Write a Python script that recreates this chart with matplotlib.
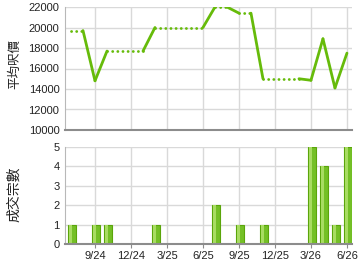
import matplotlib
matplotlib.use("Agg")
import matplotlib.pyplot as plt

# monthly data (only months with transactions)
months = ['2024-07', '2024-09', '2024-10', '2025-02', '2025-07', '2025-09',
          '2025-11', '2026-03', '2026-04', '2026-05', '2026-06']
prices = [19700, 14800, 17700, 20000, 22000, 21400, 15000, 14850, 18900, 14100, 17500]
counts = [1, 1, 1, 1, 2, 1, 1, 5, 4, 1, 5]

tick_months = ['2024-09', '2024-12', '2025-03', '2025-06', '2025-09',
               '2025-12', '2026-03', '2026-06']
tick_labels = ['9/24', '12/24', '3/25', '6/25', '9/25', '12/25', '3/26', '6/26']


def month_index(s):
    y, m = s.split('-')
    return (int(y) - 2024) * 12 + int(m) - 1


x = [month_index(m) for m in months]
xt = [month_index(m) for m in tick_months]

plt.rcParams['font.family'] = ['Liberation Sans', 'DejaVu Sans']
LINE = '#66bb0a'
GRID = '#d9d9d9'

fig = plt.figure(figsize=(3.6, 2.7), dpi=100)
ax1 = fig.add_axes([65 / 360, 1 - 130 / 270, 287 / 360, 123 / 270])
ax2 = fig.add_axes([65 / 360, 1 - 244 / 270, 287 / 360, 97 / 270])

for ax in (ax1, ax2):
    ax.set_xlim(5.5, 29.42)
    ax.set_xticks(xt)
    ax.grid(True, color=GRID, linewidth=1)
    ax.set_axisbelow(True)
    for s in ('top', 'right'):
        ax.spines[s].set_visible(False)
    ax.spines['left'].set_color('#b8b8b8')
    ax.spines['bottom'].set_color('#8c8c8c')
    ax.spines['bottom'].set_linewidth(1.5)
    ax.tick_params(axis='y', length=0, labelsize=8, colors='#222222', pad=4)

ax1.tick_params(axis='x', length=0, labelbottom=False)
ax2.tick_params(axis='x', length=3, color='#8c8c8c', labelsize=8,
                colors='#222222', pad=2)
ax2.set_xticklabels(tick_labels)

# price line: solid between consecutive months, dotted carry-over across gaps
for i in range(len(x) - 1):
    x0, x1 = x[i], x[i + 1]
    p0, p1 = prices[i], prices[i + 1]
    if x1 - x0 == 1:
        ax1.plot([x0, x1], [p0, p1], color=LINE, linewidth=2, solid_capstyle='round')
    else:
        ax1.plot([x0, x1 - 1], [p0, p0], color=LINE, linewidth=2,
                 linestyle=(0, (0.05, 1.8)), dash_capstyle='round')
        ax1.plot([x1 - 1, x1], [p0, p1], color=LINE, linewidth=2, solid_capstyle='round')

ax1.set_ylim(10000, 22000)
ax1.set_yticks(range(10000, 22001, 2000))

# bars with a simple highlight
bx = [v + 0.05 for v in x]
ax2.bar(bx, counts, width=0.66, color='#74c026', edgecolor='#5aa50a', linewidth=0.8)
ax2.bar([v - 0.08 for v in bx], counts, width=0.22, color='#a8dc62', linewidth=0)
ax2.set_ylim(0, 5)
ax2.set_yticks(range(0, 6))

fig.text(15 / 360, 1 - 64 / 270, '平均呎價', rotation=90, ha='center', va='center',
         fontsize=9, family=['Noto Sans CJK TC', 'DejaVu Sans'], color='#222222')
fig.text(14 / 360, 1 - 194 / 270, '成交宗數', rotation=90, ha='center', va='center',
         fontsize=10, family=['Noto Sans CJK TC', 'DejaVu Sans'], color='#222222')

fig.savefig('out.png', dpi=100, facecolor='white')
